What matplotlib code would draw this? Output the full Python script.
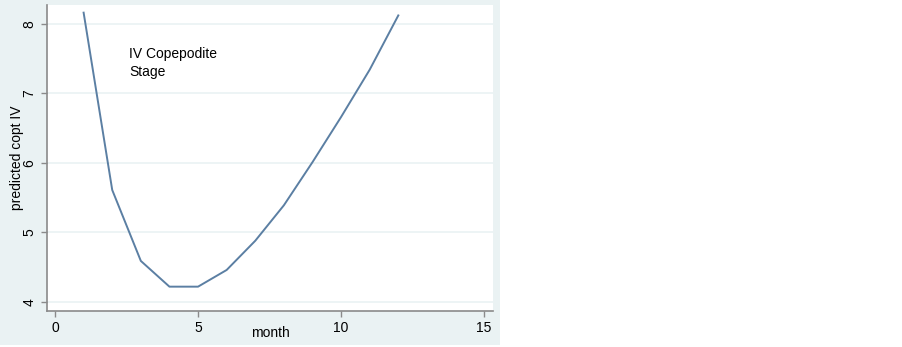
import matplotlib
matplotlib.use("Agg")
import matplotlib.pyplot as plt
from matplotlib.patches import Rectangle

months = [1, 2, 3, 4, 5, 6, 7, 8, 9, 10, 11, 12]
predicted = [8.16, 5.61, 4.59, 4.22, 4.22, 4.46, 4.88, 5.39, 6.01, 6.66, 7.34, 8.12]
xticks = [0, 5, 10, 15]
yticks = [4, 5, 6, 7, 8]

plt.rcParams['font.family'] = ['Liberation Sans', 'DejaVu Sans']

W, H = 903, 347
fig = plt.figure(figsize=(W/100, H/100), dpi=100)
fig.patches.append(Rectangle((0, 2/H), 500/W, 1 - 2/H, transform=fig.transFigure,
                             facecolor='#EAF2F3', edgecolor='none', zorder=-10))

left, right, top, bottom = 47, 493, 5, 311
ax = fig.add_axes([left/W, (H-bottom)/H, (right-left)/W, (bottom-top)/H])
ax.set_facecolor('white')
ax.plot(months, predicted, color='#5B7FA3', lw=1.4, zorder=3)

ax.set_xlim(-0.28, 15.31)
ax.set_ylim(3.87, 8.27)
ax.set_xticks(xticks)
ax.set_yticks(yticks)
ax.set_yticklabels([str(v) for v in yticks], rotation=90, va='center')
ax.grid(axis='y', color='#EAF2F3', lw=1.2)
ax.grid(axis='x', visible=False)
for s in ['top', 'right']:
    ax.spines[s].set_visible(False)
for s in ['left', 'bottom']:
    ax.spines[s].set_color('#8a8a8a')
    ax.spines[s].set_linewidth(1.2)
ax.tick_params(colors='#8a8a8a', labelcolor='black', labelsize=10, length=4, width=1)
ax.set_xlabel('month', fontsize=10, va='center')
ax.xaxis.set_label_coords(0.5, -22/306)
ax.set_ylabel('predicted copt IV', fontsize=10, va='center')
ax.yaxis.set_label_coords(-30/446, 0.5)
ax.text(2.59, 7.43, 'IV Copepodite\nStage', fontsize=10, va='center', ha='left', linespacing=1.35)

fig.savefig('out.png', dpi=100)
